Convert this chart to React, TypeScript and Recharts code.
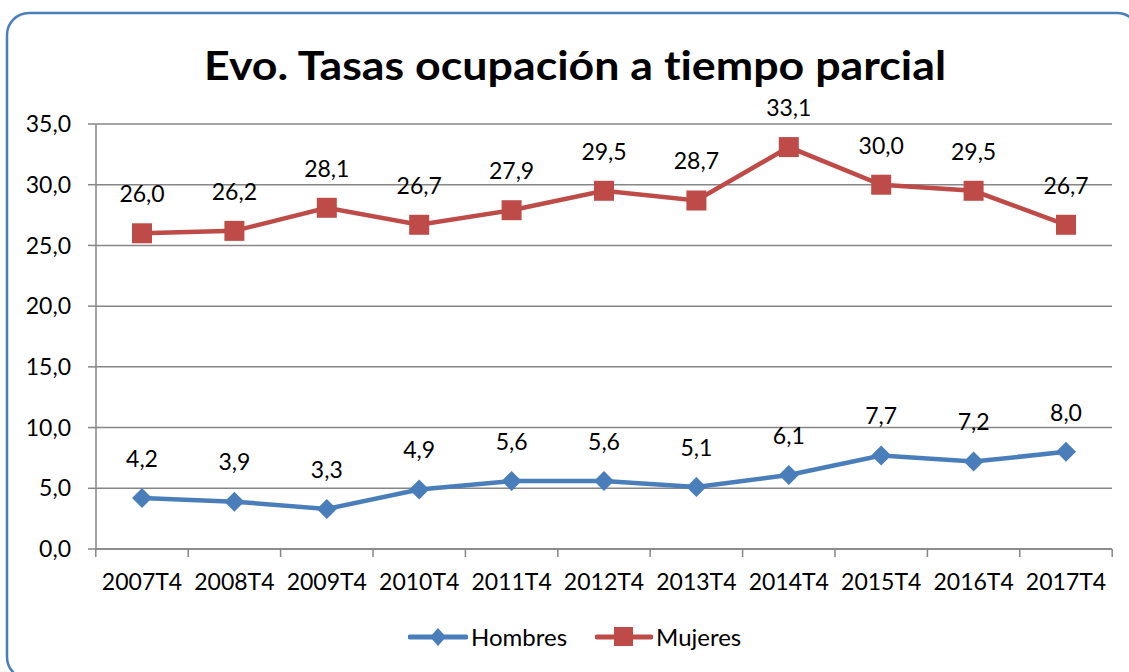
import { LineChart, Line, XAxis, YAxis, CartesianGrid, Legend, LabelList } from 'recharts';

const periods = ['2007T4', '2008T4', '2009T4', '2010T4', '2011T4', '2012T4', '2013T4', '2014T4', '2015T4', '2016T4', '2017T4'];
const hombres = [4.2, 3.9, 3.3, 4.9, 5.6, 5.6, 5.1, 6.1, 7.7, 7.2, 8.0];
const mujeres = [26.0, 26.2, 28.1, 26.7, 27.9, 29.5, 28.7, 33.1, 30.0, 29.5, 26.7];
const yTicks = [0, 5, 10, 15, 20, 25, 30, 35];

const data = periods.map((p, i) => ({ period: p, Hombres: hombres[i], Mujeres: mujeres[i] }));

const BLUE = '#4A7EBB';
const RED = '#BE4B48';
const GRID = '#868686';
const FONT = 'Lato, "Open Sans", sans-serif';
const HALF_BAND = 46.2;

const fmt = (v: number) => v.toFixed(1).replace('.', ',');

const XTick = (props: any) => {
  const { x, y, payload, index } = props;
  const last = index === periods.length - 1;
  return (
    <g>
      <line x1={x - HALF_BAND} x2={x - HALF_BAND} y1={y} y2={y + 8} stroke={GRID} strokeWidth={1.5} />
      {last && <line x1={x + HALF_BAND} x2={x + HALF_BAND} y1={y} y2={y + 8} stroke={GRID} strokeWidth={1.5} />}
      <text x={x} y={y + 35} textAnchor="middle" dominantBaseline="middle" fontSize={23} fontFamily={FONT} fill="#000">
        {payload.value}
      </text>
    </g>
  );
};

const SquareDot = (props: any) => {
  const { cx, cy, index } = props;
  if (cx == null || cy == null) return <g key={index} />;
  return <rect key={index} x={cx - 10} y={cy - 10} width={20} height={20} fill={RED} />;
};

const DiamondDot = (props: any) => {
  const { cx, cy, index } = props;
  if (cx == null || cy == null) return <g key={index} />;
  return <path key={index} d={`M${cx},${cy - 10} L${cx + 10},${cy} L${cx},${cy + 10} L${cx - 10},${cy} Z`} fill={BLUE} />;
};

const PointLabel = (props: any) => {
  const { x, y, value } = props;
  return (
    <text x={x} y={y - 37} textAnchor="middle" dominantBaseline="middle" fontSize={23} fontFamily={FONT} fill="#000">
      {fmt(value)}
    </text>
  );
};

const LegendContent = () => (
  <div style={{ display: 'flex', alignItems: 'center', fontFamily: FONT, fontSize: 24, color: '#000' }}>
    <svg width={60} height={22}>
      <line x1={2} x2={58} y1={11} y2={11} stroke={BLUE} strokeWidth={5} strokeLinecap="round" />
      <path d="M30,2 L38,11 L30,20 L22,11 Z" fill={BLUE} />
    </svg>
    <span style={{ marginLeft: 3, marginRight: 28 }}>Hombres</span>
    <svg width={58} height={22}>
      <line x1={2} x2={56} y1={11} y2={11} stroke={RED} strokeWidth={5} strokeLinecap="round" />
      <rect x={19} y={1} width={19} height={19} fill={RED} />
    </svg>
    <span style={{ marginLeft: 3 }}>Mujeres</span>
  </div>
);

export default function App() {
  return (
    <div style={{ position: 'absolute', left: 0, top: 0, width: 1129, height: 672, background: '#fff', overflow: 'hidden' }}>
      <svg width={1129} height={672} style={{ position: 'absolute', left: 0, top: 0, pointerEvents: 'none' }}>
        <rect x={7} y={13} width={1132} height={666} rx={22} ry={22} fill="none" stroke={BLUE} strokeWidth={2.5} />
        <text x={575} y={80} textAnchor="middle" fontSize={41} fontWeight="bold" fontFamily={FONT} fill="#000" textLength={742} lengthAdjust="spacingAndGlyphs" style={{ fontVariantLigatures: 'none' }}>
          Evo. Tasas ocupación a tiempo parcial
        </text>
      </svg>
      <LineChart width={1129} height={672} data={data} margin={{ top: 124, right: 17, left: 0, bottom: 83 }} style={{ position: 'absolute', left: 0, top: 0 }}>
        <CartesianGrid vertical={false} stroke={GRID} strokeWidth={1.5} />
        <XAxis
          dataKey="period"
          height={40}
          padding={{ left: 46, right: 46 }}
          axisLine={{ stroke: GRID, strokeWidth: 1.5 }}
          tickLine={false}
          tickSize={0}
          tickMargin={0}
          interval={0}
          tick={<XTick />}
        />
        <YAxis
          width={96}
          domain={[0, 35]}
          ticks={yTicks}
          interval={0}
          tickFormatter={fmt}
          axisLine={{ stroke: GRID, strokeWidth: 1.5 }}
          tickLine={{ stroke: GRID, strokeWidth: 1.5 }}
          tickSize={8}
          tickMargin={17}
          tick={{ fontSize: 23, fontFamily: FONT, fill: '#000' }}
        />
        <Legend layout="horizontal" verticalAlign="middle" align="center" content={<LegendContent />} wrapperStyle={{ position: 'absolute', top: 622, left: 408, width: 'auto' }} />
        <Line dataKey="Hombres" stroke={BLUE} strokeWidth={4.5} dot={<DiamondDot />} activeDot={false} isAnimationActive={false}>
          <LabelList dataKey="Hombres" content={<PointLabel />} />
        </Line>
        <Line dataKey="Mujeres" stroke={RED} strokeWidth={4.5} dot={<SquareDot />} activeDot={false} isAnimationActive={false}>
          <LabelList dataKey="Mujeres" content={<PointLabel />} />
        </Line>
      </LineChart>
    </div>
  );
}
